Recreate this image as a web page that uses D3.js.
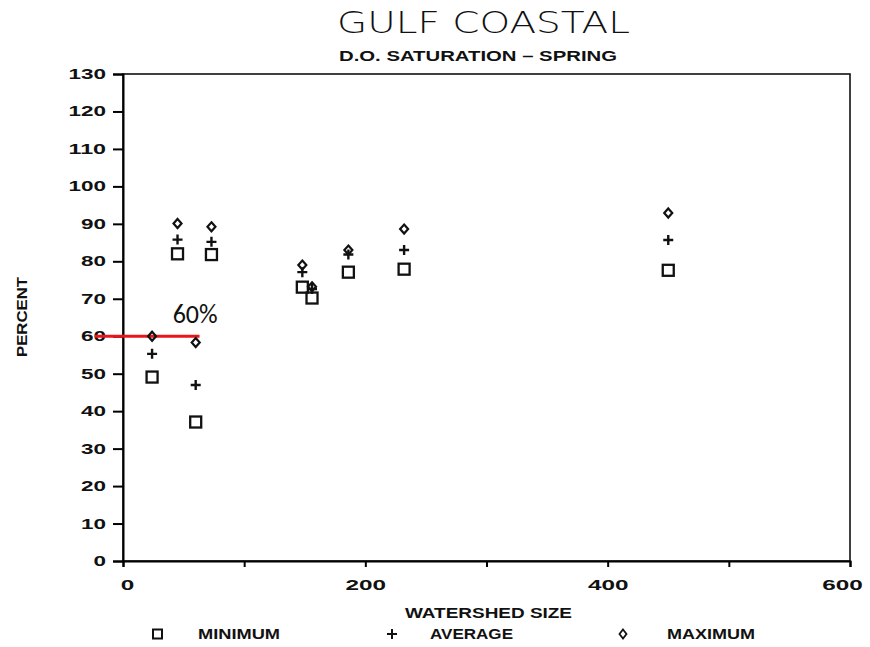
<!DOCTYPE html>
<html>
<head>
<meta charset="utf-8">
<script src="https://cdn.jsdelivr.net/npm/d3@7"></script>
<style>
  body { margin: 0; background: #fff; }
  text { font-family: "Liberation Sans", Arial, sans-serif; fill: #111; }
</style>
</head>
<body>
<div id="chart"></div>
<script>
// watershed sizes and D.O. saturation (%)
var watershed = [24, 45, 60, 73, 148, 156, 186, 232, 450];
var minimum   = [49.1, 82.0, 37.1, 81.8, 73.1, 70.2, 77.1, 77.9, 77.6];
var average   = [55.3, 85.8, 47.0, 85.2, 77.1, 72.6, 81.8, 83.0, 85.7];
var maximum   = [60.0, 90.1, 58.3, 89.2, 79.0, 73.2, 83.0, 88.6, 92.9];
var xTicks = [0, 100, 200, 300, 400, 500, 600];
var xTickLabels = [0, 200, 400, 600];
var yTicks = d3.range(0, 131, 10);
var refLevel = 60;

var svgWidth = 870, svgHeight = 647;
var margin = { top: 74, left: 123, right: 20, bottom: 86 };
var width = 850 - margin.left;
var height = 561 - margin.top;

var svg = d3.select("#chart").append("svg")
    .attr("width", svgWidth)
    .attr("height", svgHeight);

var chartGroup = svg.append("g")
    .attr("transform", `translate(${margin.left}, ${margin.top})`);

var xScale = d3.scaleLinear().domain([0, 600]).range([0, width]);
var yScale = d3.scaleLinear().domain([0, 130]).range([height, 0]);

// stretch plotter-style text to a given width per character
function widen(sel, perChar) {
    sel.each(function () {
        var t = d3.select(this);
        var n = t.text().length;
        if (n) t.attr("textLength", n * perChar).attr("lengthAdjust", "spacingAndGlyphs");
    });
}

// frame
chartGroup.append("rect")
    .attr("width", width).attr("height", height)
    .attr("fill", "none").attr("stroke", "#111").attr("stroke-width", 1.6);

// axes
var leftAxis = d3.axisLeft(yScale).tickValues(yTicks).tickSize(10).tickPadding(7);
var yAxis = chartGroup.append("g").call(leftAxis);
yAxis.select(".domain").attr("stroke-width", 2);
yAxis.selectAll(".tick line").attr("stroke-width", 2);
yAxis.selectAll("text").style("font-size", "14px").style("font-weight", "bold")
    .attr("fill", "#111").call(widen, 12.5);

var bottomAxis = d3.axisBottom(xScale).tickValues(xTicks).tickSize(6).tickPadding(12)
    .tickFormat(d => xTickLabels.indexOf(d) >= 0 ? d : "");
var xAxis = chartGroup.append("g")
    .attr("transform", `translate(0, ${height})`)
    .call(bottomAxis);
xAxis.select(".domain").attr("stroke-width", 2);
xAxis.selectAll(".tick line").attr("stroke-width", 2);
xAxis.selectAll("text").style("font-size", "15px").style("font-weight", "bold")
    .attr("fill", "#111").call(widen, 13.5);
// first label sits a little right of the origin, last one a little left
xAxis.selectAll(".tick text").filter(d => d === 0).attr("dx", 4);
xAxis.selectAll(".tick text").filter(d => d === 600).attr("dx", -8);

// red 60% reference line
chartGroup.append("line")
    .attr("x1", -28).attr("x2", xScale(45) + 22)
    .attr("y1", yScale(refLevel)).attr("y2", yScale(refLevel))
    .attr("stroke", "#e8161b").attr("stroke-width", 3);
chartGroup.append("text")
    .attr("x", xScale(41)).attr("y", yScale(refLevel) - 13)
    .text("60%")
    .style("font-family", "Carlito, Lato, 'Open Sans', sans-serif")
    .style("font-size", "26px")
    .attr("fill", "#2e3b52");

// markers
var points = watershed.map((w, i) => ({ x: w, min: minimum[i], avg: average[i], max: maximum[i] }));

chartGroup.selectAll(".minPt").data(points).enter().append("rect")
    .attr("class", "minPt")
    .attr("x", d => xScale(d.x) - 5.5).attr("y", d => yScale(d.min) - 5.5)
    .attr("width", 11).attr("height", 11)
    .attr("fill", "none").attr("stroke", "#111").attr("stroke-width", 2.3);

chartGroup.selectAll(".avgPt").data(points).enter().append("path")
    .attr("class", "avgPt")
    .attr("d", d => {
        var cx = xScale(d.x), cy = yScale(d.avg);
        return `M${cx - 5},${cy}H${cx + 5}M${cx},${cy - 5}V${cy + 5}`;
    })
    .attr("stroke", "#111").attr("stroke-width", 2.4);

chartGroup.selectAll(".maxPt").data(points).enter().append("path")
    .attr("class", "maxPt")
    .attr("d", d => {
        var cx = xScale(d.x), cy = yScale(d.max);
        return `M${cx},${cy - 4.5}L${cx + 4},${cy}L${cx},${cy + 4.5}L${cx - 4},${cy}Z`;
    })
    .attr("fill", "none").attr("stroke", "#111").attr("stroke-width", 2.2);

// titles
svg.append("text").attr("x", 337).attr("y", 33)
    .style("font-family", "'DejaVu Sans', sans-serif").style("font-weight", 200)
    .style("font-size", "30px")
    .attr("textLength", 293).attr("lengthAdjust", "spacingAndGlyphs")
    .text("GULF COASTAL");
svg.append("text").attr("x", 339).attr("y", 61)
    .style("font-size", "15px").style("font-weight", "bold")
    .attr("textLength", 278).attr("lengthAdjust", "spacingAndGlyphs")
    .text("D.O. SATURATION \u2013 SPRING");

// y label
svg.append("text")
    .attr("transform", "translate(27, 357) rotate(-90)")
    .style("font-size", "14px").style("font-weight", "bold")
    .attr("textLength", 80).attr("lengthAdjust", "spacingAndGlyphs")
    .text("PERCENT");

// x label
svg.append("text").attr("x", 405).attr("y", 618)
    .style("font-size", "14px").style("font-weight", "bold")
    .attr("textLength", 167).attr("lengthAdjust", "spacingAndGlyphs")
    .text("WATERSHED SIZE");

// legend
var legendY = 634;
svg.append("rect").attr("x", 153).attr("y", legendY - 4.5).attr("width", 9).attr("height", 9)
    .attr("fill", "none").attr("stroke", "#111").attr("stroke-width", 2);
svg.append("path").attr("d", `M387,${legendY}H397M392,${legendY - 5}V${legendY + 5}`)
    .attr("stroke", "#111").attr("stroke-width", 2);
svg.append("path").attr("d", `M623,${legendY - 4.5}L626.5,${legendY}L623,${legendY + 4.5}L619.5,${legendY}Z`)
    .attr("fill", "none").attr("stroke", "#111").attr("stroke-width", 1.8);

[["MINIMUM", 198, 82], ["AVERAGE", 430, 83], ["MAXIMUM", 667, 88]].forEach(function (l) {
    svg.append("text").attr("x", l[1]).attr("y", legendY + 5)
        .style("font-size", "14px").style("font-weight", "bold")
        .attr("textLength", l[2]).attr("lengthAdjust", "spacingAndGlyphs")
        .text(l[0]);
});
</script>
</body>
</html>
